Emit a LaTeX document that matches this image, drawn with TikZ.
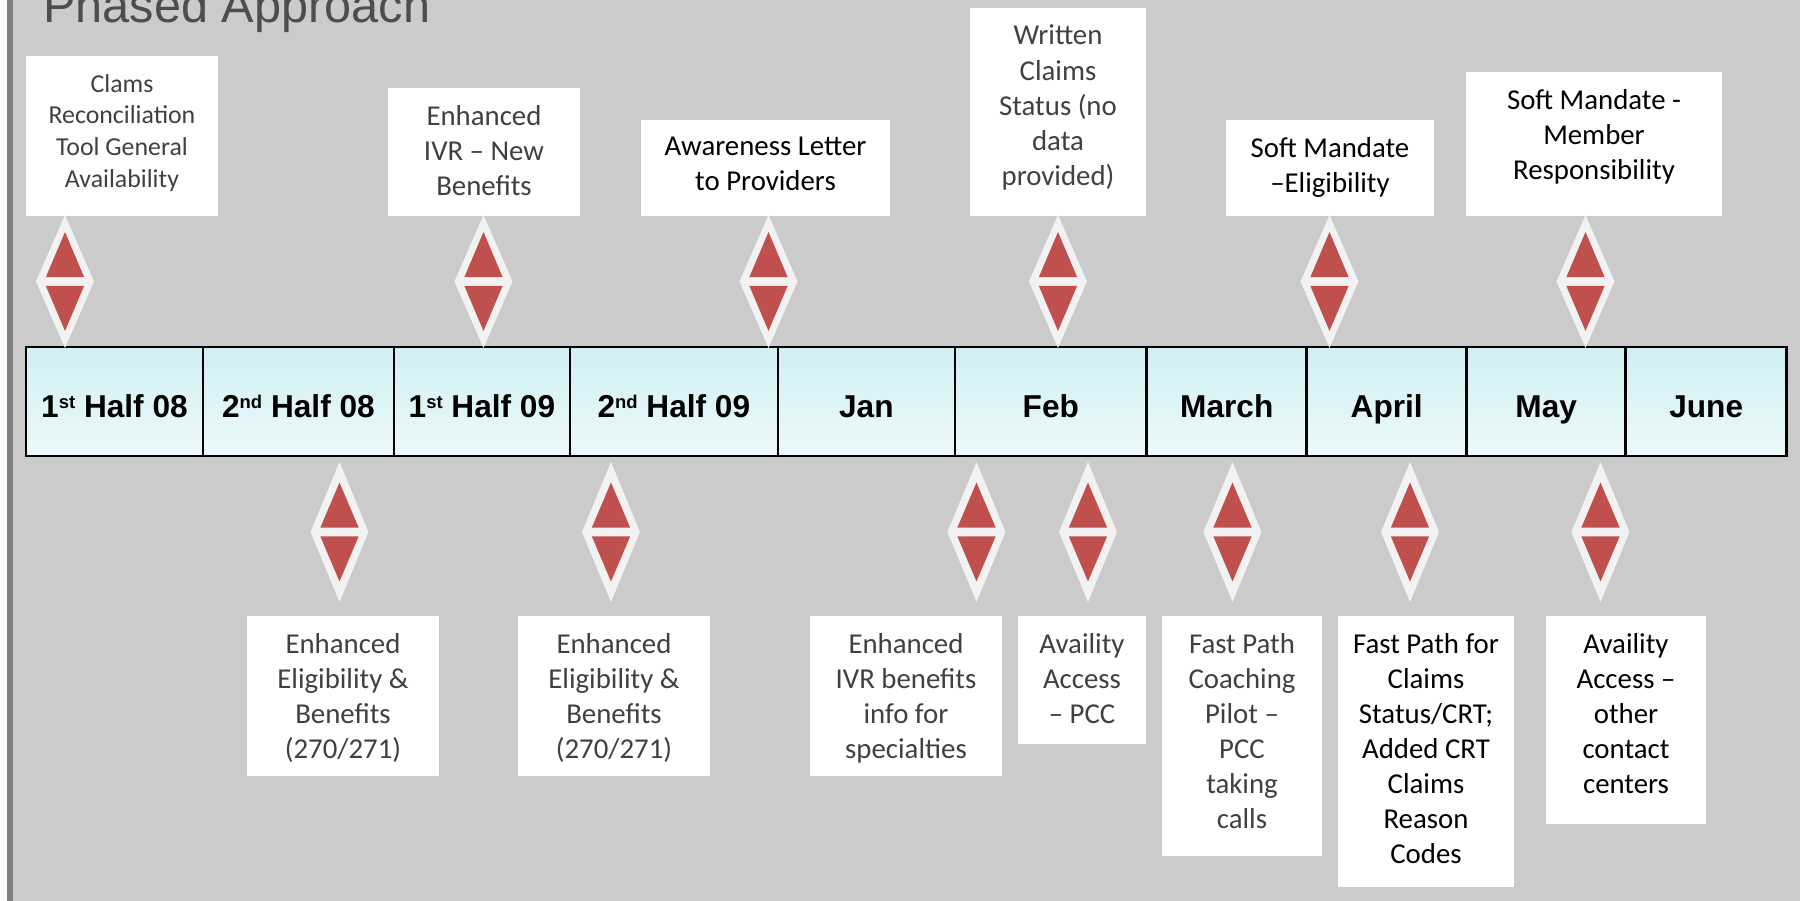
\documentclass[tikz,border=0pt]{standalone}
\usepackage{fontspec}
\setmainfont{Carlito}
\newfontfamily\arialfont{Liberation Sans}
\usetikzlibrary{positioning}

\definecolor{slide}{HTML}{CBCBCB}
\definecolor{edge}{HTML}{808080}
\definecolor{heading}{HTML}{4D4D4D}
\definecolor{ink}{HTML}{404040}
\definecolor{rim}{HTML}{F2F2F2}
\definecolor{ruby}{HTML}{C0504D}
\definecolor{barhi}{HTML}{CFF0F4}
\definecolor{barlo}{HTML}{EDF9FA}

\newcommand{\sufx}[1]{\raisebox{5.5pt}{\fontsize{10.5}{10.5}\selectfont #1}}

\begin{document}
\begin{tikzpicture}[x=0.02cm, y=-0.02cm,
  cell/.style={draw=black, line width=1.5pt, outer sep=0pt, inner sep=0pt,
    minimum height=2.18cm, top color=barhi, bottom color=barlo,
    text height=18.7pt, text depth=0pt,
    font=\arialfont\bfseries\fontsize{18}{20}\selectfont},
  card/.style 2 args={fill=white, inner sep=0pt, outer sep=0pt, anchor=north west,
    minimum width=#1*0.02cm, minimum height=#2*0.02cm},
  note/.style={anchor=north, align=center, inner sep=0pt,
    execute at begin node=\strut, font=\fontsize{16.4}{20}\selectfont},
  gem/.pic={
    \fill[rim]  (0,-#1) -- (29,0) -- (0,#1) -- (-29,0) -- cycle;
    \fill[ruby] (0,-49.5) -- (19.2,-4.3) -- (-19.2,-4.3) -- cycle;
    \fill[ruby] (0,49.5)  -- (19.2,4.3)  -- (-19.2,4.3)  -- cycle;
  }]

\useasboundingbox (0,0) rectangle (1800,901);
\clip (0,0) rectangle (1800,901);

% slide background
\fill[white] (0,0) rectangle (7,901);
\fill[edge]  (7,0) rectangle (13,901);
\fill[slide] (13,0) rectangle (1800,901);

\node[anchor=base west, inner sep=0pt, text=heading,
  font=\arialfont\fontsize{27.7}{30}\selectfont] (title) at (43,22.7) {Phased Approach};

% time bar
\node[cell, minimum width=3.54cm, anchor=north west] (c1) at (26,347) {1\sufx{st} Half 08};
\node[cell, minimum width=3.82cm, right=0pt of c1]  (c2)  {2\sufx{nd} Half 08};
\node[cell, minimum width=3.52cm, right=0pt of c2]  (c3)  {1\sufx{st} Half 09};
\node[cell, minimum width=4.16cm, right=0pt of c3]  (c4)  {2\sufx{nd} Half 09};
\node[cell, minimum width=3.54cm, right=0pt of c4]  (c5)  {Jan};
\node[cell, minimum width=3.84cm, right=0pt of c5]  (c6)  {Feb};
\node[cell, minimum width=3.20cm, right=0pt of c6]  (c7)  {March};
\node[cell, minimum width=3.20cm, right=0pt of c7]  (c8)  {April};
\node[cell, minimum width=3.18cm, right=0pt of c8]  (c9)  {May};
\node[cell, minimum width=3.22cm, right=0pt of c9]  (c10) {June};

% milestones above the bar
\node[card={192}{160}] (t1) at (26,56)   {};
\node[card={192}{128}] (t2) at (388,88)  {};
\node[card={249}{96}]  (t3) at (641,120) {};
\node[card={176}{208}] (t4) at (970,8)   {};
\node[card={208}{96}]  (t5) at (1226,120) {};
\node[card={256}{144}] (t6) at (1466,72) {};

\node[note, text=ink, font=\fontsize{14.7}{18}\selectfont] (t1text) at ([yshift=-0.36cm]t1.north)
  {Clams\\Reconciliation\\Tool General\\Availability};
\node[note, text=ink] (t2text) at ([yshift=-0.336cm]t2.north) {Enhanced\\IVR -- New\\Benefits};
\node[note]           (t3text) at ([yshift=-0.336cm]t3.north) {Awareness Letter\\to Providers};
\node[note, text=ink] (t4text) at ([yshift=-0.336cm]t4.north)
  {Written\\Claims\\Status (no\\data\\provided)};
\node[note]           (t5text) at ([yshift=-0.336cm]t5.north) {Soft Mandate\\--Eligibility};
\node[note]           (t6text) at ([yshift=-0.336cm]t6.north) {Soft Mandate -\\Member\\Responsibility};

\pic at (65,281.5)     {gem=66.5};
\pic at (483.5,281.5)  {gem=66.5};
\pic at (768.5,281.5)  {gem=66.5};
\pic at (1058,281.5)   {gem=66.5};
\pic at (1329.5,281.5) {gem=66.5};
\pic at (1585.5,281.5) {gem=66.5};

% milestones below the bar
\pic at (339.5,532)  {gem=70};
\pic at (611,532)    {gem=70};
\pic at (976.5,532)  {gem=70};
\pic at (1088,532)   {gem=70};
\pic at (1232.5,532) {gem=70};
\pic at (1410,532)   {gem=70};
\pic at (1600.5,532) {gem=70};

\node[card={192}{160}] (b1) at (247,616)  {};
\node[card={192}{160}] (b2) at (518,616)  {};
\node[card={192}{160}] (b3) at (810,616)  {};
\node[card={128}{128}] (b4) at (1018,616) {};
\node[card={160}{240}] (b5) at (1162,616) {};
\node[card={176}{271}] (b6) at (1338,616) {};
\node[card={160}{208}] (b7) at (1546,616) {};

\node[note, text=ink] (b1text) at ([yshift=-0.336cm]b1.north)
  {Enhanced\\Eligibility \&\\Benefits\\(270/271)};
\node[note, text=ink] (b2text) at ([yshift=-0.336cm]b2.north)
  {Enhanced\\Eligibility \&\\Benefits\\(270/271)};
\node[note, text=ink] (b3text) at ([yshift=-0.336cm]b3.north)
  {Enhanced\\IVR benefits\\info for\\specialties};
\node[note, text=ink] (b4text) at ([yshift=-0.336cm]b4.north) {Availity\\Access\\-- PCC};
\node[note, text=ink] (b5text) at ([yshift=-0.336cm]b5.north)
  {Fast Path\\Coaching\\Pilot --\\PCC\\taking\\calls};
\node[note]           (b6text) at ([yshift=-0.336cm]b6.north)
  {Fast Path for\\Claims\\Status/CRT;\\Added CRT\\Claims\\Reason\\Codes};
\node[note]           (b7text) at ([yshift=-0.336cm]b7.north)
  {Availity\\Access --\\other\\contact\\centers};
\end{tikzpicture}
\end{document}
